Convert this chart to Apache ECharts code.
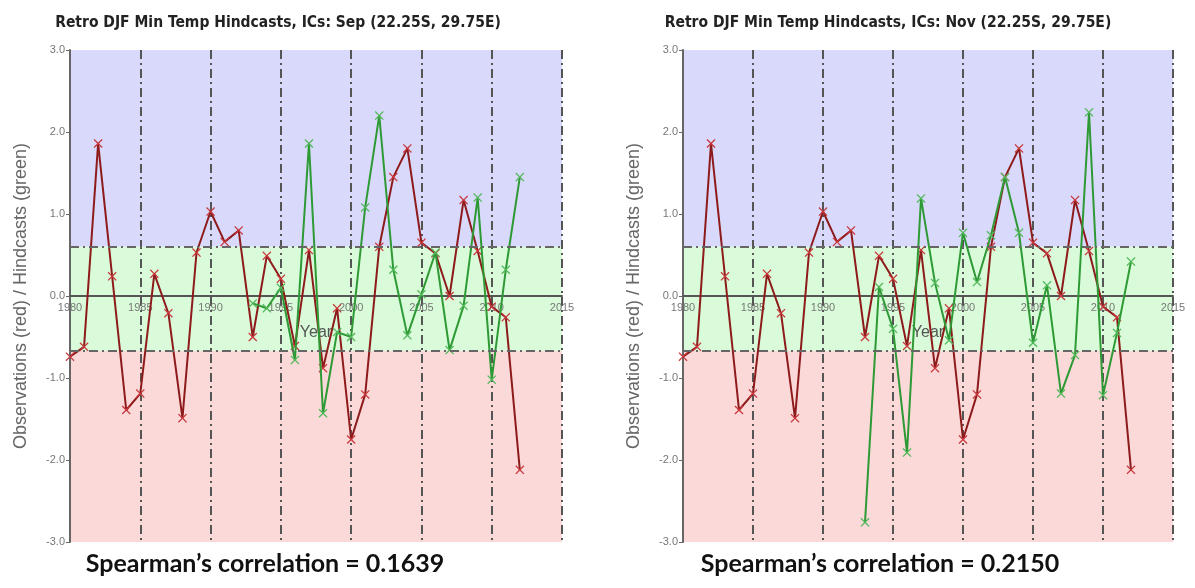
<!DOCTYPE html>
<html>
<head>
<meta charset="utf-8">
<script src="https://cdn.jsdelivr.net/npm/echarts@6/dist/echarts.min.js"></script>
<style>
html,body{margin:0;padding:0;background:#fff;}
#c{width:1195px;height:588px;}
</style>
</head>
<body>
<div id="c"></div>
<script>
// ---- data ----
const years = [];
for (let y = 1980; y <= 2012; y++) years.push(y);
const observations = [-0.74,-0.62,1.86,0.24,-1.39,-1.19,0.27,-0.21,-1.49,0.53,1.03,0.66,0.8,-0.5,0.49,0.21,-0.61,0.56,-0.88,-0.15,-1.75,-1.2,0.6,1.45,1.8,0.65,0.52,0.0,1.17,0.55,-0.13,-0.26,-2.12];
const hindYears = [];
for (let y = 1993; y <= 2012; y++) hindYears.push(y);
const hindcastSep = [-0.09,-0.15,0.1,-0.78,1.86,-1.43,-0.44,-0.5,1.08,2.2,0.32,-0.48,0.02,0.53,-0.66,-0.12,1.2,-1.02,0.32,1.45];
const hindcastNov = [-2.76,0.11,-0.4,-1.91,1.19,0.16,-0.54,0.77,0.17,0.74,1.45,0.77,-0.57,0.13,-1.19,-0.72,2.24,-1.21,-0.45,0.42];
const upperThreshold = 0.6;
const lowerThreshold = -0.67;
const titles = ['Retro DJF Min Temp Hindcasts, ICs: Sep (22.25S, 29.75E)', 'Retro DJF Min Temp Hindcasts, ICs: Nov (22.25S, 29.75E)'];
const correlations = ['Spearman\u2019s correlation = 0.1639', 'Spearman\u2019s correlation = 0.2150'];

// ---- chart ----
const chart = echarts.init(document.getElementById('c'));
const xMark = 'path://M0,1L1,0L5,4L9,0L10,1L6,5L10,9L9,10L5,6L1,10L0,9L4,5Z';
const dashDot = [9, 4, 2, 4];
const W = 1195, H = 588;

function pairs(xs, ys) { return xs.map((x, i) => [x, ys[i]]); }

const grids = [
  {left: 70, right: 633, top: 50, bottom: 46},
  {left: 683, right: 22, top: 50, bottom: 46}
];
const plotH = H - 50 - 46;

const xAxes = grids.map((g, i) => ({
  type: 'value', gridIndex: i, min: 1980, max: 2015, interval: 5, z: 2,
  position: 'bottom', offset: -plotH / 2,
  axisLine: {show: true, onZero: false, lineStyle: {color: '#555', width: 2}},
  axisTick: {show: false},
  axisLabel: {color: '#777', fontSize: 11, fontFamily: 'Liberation Sans', margin: 6,
    formatter: v => String(v)},
  splitLine: {show: true, lineStyle: {color: '#555', width: 2, type: dashDot}},
  name: 'Year', nameLocation: 'middle', nameGap: 29,
  nameTextStyle: {color: '#555', fontSize: 16, fontFamily: 'Liberation Sans'}
}));

const yAxes = grids.map((g, i) => ({
  type: 'value', gridIndex: i, min: -3, max: 3, interval: 1, z: 2,
  axisLine: {show: true, onZero: false, lineStyle: {color: '#666', width: 2}},
  axisTick: {show: true, length: 4, lineStyle: {color: '#666'}},
  axisLabel: {color: '#777', fontSize: 11, fontFamily: 'Liberation Sans', margin: 5,
    formatter: v => v.toFixed(1)},
  splitLine: {show: false},
  name: 'Observations (red) / Hindcasts (green)', nameLocation: 'middle', nameGap: 40,
  nameTextStyle: {color: '#666', fontSize: 18, fontFamily: 'Liberation Sans'}
}));

function bands(i) {
  return {
    type: 'line', xAxisIndex: i, yAxisIndex: i, data: [], silent: true,
    markArea: {
      silent: true,
      data: [
        [{yAxis: upperThreshold, itemStyle: {color: '#d9d9fb'}}, {yAxis: 3}],
        [{yAxis: lowerThreshold, itemStyle: {color: '#d9fbd9'}}, {yAxis: upperThreshold}],
        [{yAxis: -3, itemStyle: {color: '#fbd9d9'}}, {yAxis: lowerThreshold}]
      ]
    },
    markLine: {
      silent: true, symbol: 'none', label: {show: false},
      lineStyle: {color: '#666', width: 2, type: dashDot},
      data: [{yAxis: upperThreshold}, {yAxis: lowerThreshold}]
    },
    z: 1
  };
}

function lineSeries(i, xs, ys, lineColor, markColor, z) {
  return {
    type: 'line', xAxisIndex: i, yAxisIndex: i, data: pairs(xs, ys),
    symbol: xMark, symbolSize: 9, showAllSymbol: true,
    lineStyle: {color: lineColor, width: 2},
    itemStyle: {color: markColor},
    z: z, animation: false
  };
}

const hind = [hindcastSep, hindcastNov];
const series = [];
[0, 1].forEach(i => {
  series.push(bands(i));
  series.push(lineSeries(i, years, observations, '#8e1b1b', '#c8383c', 3));
  series.push(lineSeries(i, hindYears, hind[i], '#2e9a35', '#52b85a', 4));
});

const titleFont = {fontSize: 15.5, fontWeight: 'bold', color: '#222', fontFamily: 'DejaVu Sans Condensed'};
const corrFont = {fontSize: 25, fontWeight: 'bold', color: '#111', fontFamily: 'Lato'};

chart.setOption({
  animation: false,
  backgroundColor: '#fff',
  title: [
    {text: titles[0], left: 273, top: 10, textAlign: 'center', textStyle: titleFont},
    {text: titles[1], left: 883, top: 10, textAlign: 'center', textStyle: titleFont},
    {text: correlations[0], left: 260, top: 546, textAlign: 'center', textStyle: corrFont},
    {text: correlations[1], left: 875, top: 546, textAlign: 'center', textStyle: corrFont}
  ],
  grid: grids,
  xAxis: xAxes,
  yAxis: yAxes,
  series: series
});
</script>
</body>
</html>
